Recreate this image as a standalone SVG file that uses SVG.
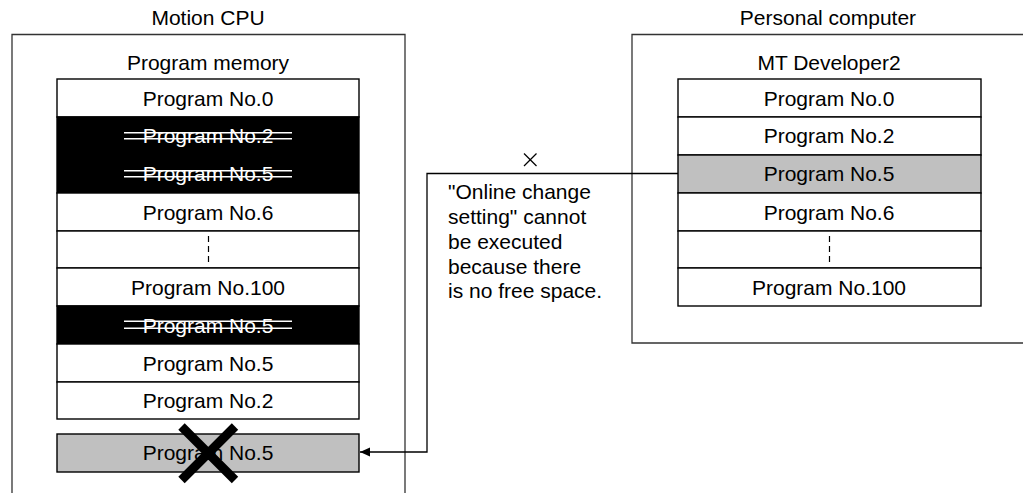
<svg xmlns="http://www.w3.org/2000/svg" width="1023" height="493" viewBox="0 0 1023 493">
<defs>
<style>
text{font-family:"Liberation Sans",Arial,sans-serif;font-size:21px;fill:#000}
.c{text-anchor:middle}
.w{fill:#fff}
.box{fill:none;stroke:#333;stroke-width:1.3}
.cell{fill:#fff;stroke:#000;stroke-width:1.4}
.blk{fill:#000;stroke:#000;stroke-width:1.4}
.gry{fill:#c0c0c0;stroke:#000;stroke-width:1.4}
.dash{stroke:#000;stroke-width:1.2;stroke-dasharray:6,4;fill:none}
.strike{stroke:#fff;stroke-width:1.5}
.conn{fill:none;stroke:#000;stroke-width:1.3}
</style>
<marker id="arr" viewBox="0 0 10 10" refX="10" refY="5" markerWidth="10" markerHeight="10" markerUnits="userSpaceOnUse" orient="auto">
<path d="M0,0.5 L10,5 L0,9.5 Z" fill="#000"/>
</marker>
</defs>
<rect width="1023" height="493" fill="#fff"/>

<g id="motion-cpu">
<text class="c" x="208" y="25">Motion CPU</text>
<path class="box" d="M12,494 V34.5 H405 V494"/>
<text class="c" x="208" y="70">Program memory</text>
</g>

<g id="program-memory">
<rect class="cell" x="57" y="79" width="302" height="38"/>
<text class="c" x="208" y="105.5">Program No.0</text>
<rect class="blk" x="57" y="117" width="302" height="76"/>
<text class="c w" x="208" y="143">Program No.2</text>
<line class="strike" x1="124" y1="132.7" x2="292" y2="132.7"/>
<line class="strike" x1="124" y1="138.7" x2="292" y2="138.7"/>
<text class="c w" x="208" y="181">Program No.5</text>
<line class="strike" x1="124" y1="170.7" x2="292" y2="170.7"/>
<line class="strike" x1="124" y1="176.7" x2="292" y2="176.7"/>
<rect class="cell" x="57" y="193" width="302" height="38"/>
<text class="c" x="208" y="219.5">Program No.6</text>
<rect class="cell" x="57" y="231" width="302" height="37"/>
<line class="dash" x1="208.5" y1="236" x2="208.5" y2="264"/>
<rect class="cell" x="57" y="268" width="302" height="38"/>
<text class="c" x="208" y="294.5">Program No.100</text>
<rect class="blk" x="57" y="306" width="302" height="38"/>
<text class="c w" x="208" y="332.5">Program No.5</text>
<line class="strike" x1="124" y1="321.3" x2="292" y2="321.3"/>
<line class="strike" x1="124" y1="328.3" x2="292" y2="328.3"/>
<rect class="cell" x="57" y="344" width="302" height="38"/>
<text class="c" x="208" y="370.5">Program No.5</text>
<rect class="cell" x="57" y="382" width="302" height="37"/>
<text class="c" x="208" y="407.5">Program No.2</text>
</g>

<g id="new-program">
<rect class="gry" x="57" y="434" width="302" height="38"/>
<text class="c" x="208" y="460">Program No.5</text>
<line x1="181.5" y1="426.5" x2="235" y2="480" stroke="#000" stroke-width="9"/>
<line x1="235" y1="426.5" x2="181.5" y2="480" stroke="#000" stroke-width="9"/>
</g>

<g id="personal-computer">
<text class="c" x="828" y="25">Personal computer</text>
<path class="box" d="M1024,34.5 H632 V343 H1024"/>
<text class="c" x="829" y="70">MT Developer2</text>
</g>

<g id="mt-developer2">
<rect class="cell" x="678" y="79" width="303" height="38"/>
<text class="c" x="829" y="105.5">Program No.0</text>
<rect class="cell" x="678" y="117" width="303" height="38"/>
<text class="c" x="829" y="143">Program No.2</text>
<rect class="gry" x="678" y="155" width="303" height="38"/>
<text class="c" x="829" y="181">Program No.5</text>
<rect class="cell" x="678" y="193" width="303" height="38"/>
<text class="c" x="829" y="219.5">Program No.6</text>
<rect class="cell" x="678" y="231" width="303" height="37"/>
<line class="dash" x1="829.5" y1="236" x2="829.5" y2="264"/>
<rect class="cell" x="678" y="268" width="303" height="38"/>
<text class="c" x="829" y="294.5">Program No.100</text>
</g>

<g id="connectors">
<path class="conn" d="M678,173.5 H427 V452 H360" marker-end="url(#arr)"/>
</g>

<g id="note">
<line x1="524" y1="153.5" x2="536.5" y2="166" stroke="#000" stroke-width="1.2"/>
<line x1="536.5" y1="153.5" x2="524" y2="166" stroke="#000" stroke-width="1.2"/>
<text x="448" y="199">"Online change</text>
<text x="448" y="224">setting" cannot</text>
<text x="448" y="249">be executed</text>
<text x="448" y="273.5">because there</text>
<text x="448" y="298">is no free space.</text>
</g>
</svg>
